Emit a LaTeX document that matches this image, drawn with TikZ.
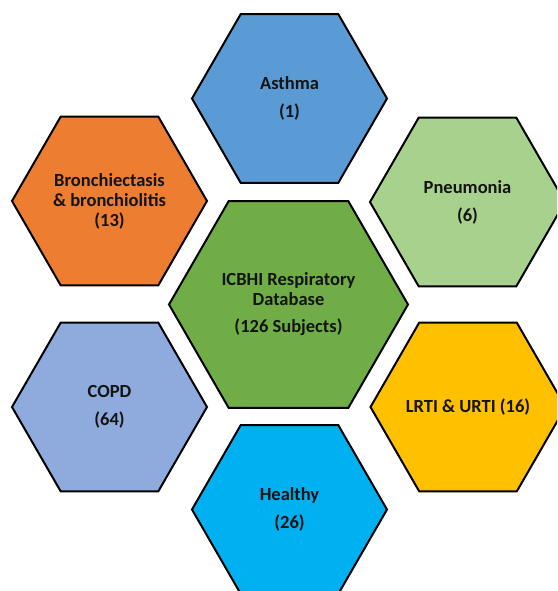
\documentclass[tikz,border=0pt]{standalone}
\usepackage{fontspec}
\setmainfont{Carlito}
\usetikzlibrary{shapes.geometric}
\definecolor{asthmablue}{HTML}{5B9BD5}
\definecolor{bronchorange}{HTML}{ED7D31}
\definecolor{pneugreen}{HTML}{A9D18E}
\definecolor{dbgreen}{HTML}{70AD47}
\definecolor{copdblue}{HTML}{8FAADC}
\definecolor{rtiyellow}{HTML}{FFC000}
\definecolor{healthyblue}{HTML}{00B0F0}
\definecolor{inktext}{HTML}{141414}
\tikzset{
  hexcell/.style={regular polygon, regular polygon sides=6, draw=black,
    line width=2pt, inner sep=0pt, outer sep=0pt, minimum size=195pt},
  bighex/.style={hexcell, minimum size=239pt},
  celltext/.style={align=center, inner sep=0pt, text=inktext,
    font=\bfseries\fontsize{18.5}{20}\selectfont}
}
\begin{document}
\begin{tikzpicture}[x=1pt,y=-1pt]
  \useasboundingbox (0,0) rectangle (557,591);
  \clip (0,0) rectangle (557,591);
  % category cells around the database
  \node[hexcell, fill=asthmablue]   (asthma)  at (289.5,98.5)  {};
  \node[hexcell, fill=bronchorange] (bronch)  at (109.5,201)   {};
  \node[hexcell, fill=pneugreen]    (pneu)    at (467.5,202)   {};
  \node[hexcell, fill=copdblue]     (copd)    at (109.5,407)   {};
  \node[hexcell, fill=rtiyellow]    (rti)     at (468,407)     {};
  \node[hexcell, fill=healthyblue]  (healthy) at (289.5,509.5) {};
  % central database cell
  \node[bighex, fill=dbgreen] (db) at (288.5,304.5) {};
  % labels
  \node[celltext] (asthmatxt)  at (asthma.center)  {Asthma\\[8pt](1)};
  \node[celltext] (bronchtxt)  at (bronch.center)  {Bronchiectasis\\\& bronchiolitis\\(13)};
  \node[celltext] (pneutxt)    at (pneu.center)    {Pneumonia\\[8pt](6)};
  \node[celltext] (copdtxt)    at (copd.center)    {COPD\\[8pt](64)};
  \node[celltext] (rtitxt)     at (rti.center)     {LRTI \& URTI (16)};
  \node[celltext] (healthytxt) at (healthy.center) {Healthy\\[8pt](26)};
  \node[celltext] (dbtxt)      at (db.center)      {ICBHI Respiratory\\Database\\[7pt](126 Subjects)};
\end{tikzpicture}
\end{document}
